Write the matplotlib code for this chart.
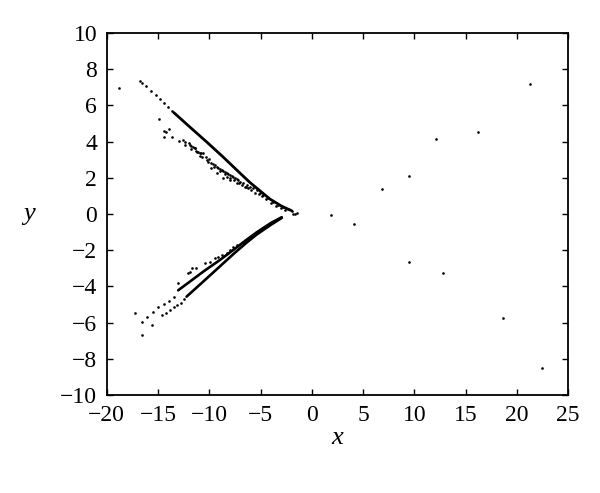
import matplotlib
matplotlib.use("Agg")
import matplotlib.pyplot as plt

# ---- data ----
# isolated points
iso_x = [-18.83, 1.88, 4.15, 6.82, 9.52, 12.13, 16.2, 21.24, 9.49, 12.75, 18.67, 22.48, -1.81, -1.42, -1.6]
iso_y = [6.96, -0.07, -0.55, 1.40, 2.12, 4.13, 4.51, 7.17, -2.67, -3.26, -5.73, -8.51, 0.0, 0.07, -0.02]

# upper outer dotted branch
up_dot_x = [-16.78, -16.58, -16.19, -15.67, -15.21, -14.82, -14.43, -14.04, -13.65]
up_dot_y = [7.36, 7.25, 7.07, 6.78, 6.56, 6.34, 6.12, 5.93, 5.71]

# upper solid branch (vertices)
up_line_x = [-13.46, -11.89, -10.2, -8.64, -7.2, -6.04, -4.08, -3.0, -2.45, -1.97]
up_line_y = [5.60, 4.80, 3.95, 3.14, 2.36, 1.74, 0.82, 0.45, 0.30, 0.18]

# upper scattered band
up_band_x = [-14.95, -14.43, -14.24, -13.91, -14.43, -13.65, -13.0, -12.61, -12.35, -12.35,
             -12.02, -11.83, -11.77, -11.44, -11.31, -11.18, -10.85, -10.92, -10.33, -10.07,
             -11.89, -11.63, -11.41, -11.08, -10.92, -10.59, -10.75, -10.27, -10.10, -9.88,
             -9.68, -9.45, -9.29, -9.13, -8.96, -8.80, -8.64, -8.48, -8.31, -8.15,
             -7.99, -7.83, -7.66, -7.50, -7.34, -7.17, -7.01, -6.69, -6.36, -6.04,
             -5.71, -5.38, -5.06, -4.73, -4.25, -3.76, -3.27, -2.78, -2.29, -1.97,
             -9.88, -9.29, -8.64, -8.31, -7.99, -7.34, -6.52, -6.20, -9.55, -9.0,
             -8.5, -8.0, -7.6, -7.1, -6.8, -6.4, -5.9, -5.5, -5.2, -4.9,
             -4.5, -4.0, -3.5, -3.0, -2.6]
up_band_y = [5.23, 4.60, 4.53, 4.71, 4.27, 4.27, 4.05, 4.09, 3.98, 3.80,
             3.91, 3.76, 3.57, 3.65, 3.50, 3.43, 3.35, 3.20, 3.17, 3.06,
             3.81, 3.72, 3.63, 3.44, 3.35, 3.35, 3.17, 2.98, 2.89, 2.84,
             2.76, 2.71, 2.62, 2.52, 2.47, 2.43, 2.39, 2.34, 2.25, 2.21,
             2.15, 2.10, 2.03, 1.97, 1.92, 1.88, 1.79, 1.69, 1.60, 1.51,
             1.42, 1.33, 1.18, 1.05, 0.87, 0.68, 0.50, 0.37, 0.26, 0.18,
             2.52, 2.25, 1.97, 2.06, 1.88, 1.69, 1.51, 1.42, 2.62, 2.38,
             2.20, 2.00, 1.86, 1.72, 1.62, 1.50, 1.32, 1.18, 1.08, 0.98,
             0.82, 0.62, 0.46, 0.32, 0.22]

# lower dotted points
lo_dot_x = [-17.27, -16.61, -16.61, -16.12, -15.64, -15.54, -14.99, -14.43, -13.91, -13.46,
            -14.57, -14.24, -13.85, -13.46, -13.2, -12.8, -12.48, -13.04,
            -12.06, -11.73, -11.31, -11.9, -10.43, -9.94, -9.45, -9.13, -8.8, -8.31,
            -7.99, -7.66, -7.33, -6.68]
lo_dot_y = [-5.49, -5.95, -6.69, -5.67, -6.13, -5.40, -5.16, -4.97, -4.79, -4.60,
            -5.58, -5.45, -5.30, -5.15, -5.03, -4.90, -4.71, -3.80,
            -3.28, -3.00, -3.00, -3.19, -2.72, -2.64, -2.45, -2.36, -2.27, -2.17,
            -1.99, -1.81, -1.71, -1.53]

# lower solid branches (vertices)
lo_line1_x = [-13.04, -10.5, -8.96, -7.66, -6.4, -5.39, -4.0, -2.94]
lo_line1_y = [-4.22, -3.15, -2.54, -1.99, -1.44, -1.02, -0.50, -0.18]
lo_line2_x = [-12.22, -10.0, -7.66, -6.4, -5.39, -4.0, -2.94]
lo_line2_y = [-4.57, -3.43, -2.22, -1.60, -1.14, -0.60, -0.22]

x_ticks = [-20, -15, -10, -5, 0, 5, 10, 15, 20, 25]
y_ticks = [-10, -8, -6, -4, -2, 0, 2, 4, 6, 8, 10]

# ---- drawing ----
plt.rcParams['font.family'] = ['Liberation Serif', 'DejaVu Serif']
plt.rcParams['axes.unicode_minus'] = True

fig = plt.figure(figsize=(6.0, 4.93), dpi=100)
ax = fig.add_axes([0.178, 0.199, 0.769, 0.734])

dot_kw = dict(s=3.6, c='black', marker='o', linewidths=0)
ax.scatter(iso_x, iso_y, **dot_kw)
ax.scatter(up_dot_x, up_dot_y, **dot_kw)
ax.scatter(up_band_x, up_band_y, **dot_kw)
ax.scatter(lo_dot_x, lo_dot_y, **dot_kw)
ax.plot(up_line_x, up_line_y, color='black', lw=2.0, solid_capstyle='round')
ax.plot(lo_line1_x, lo_line1_y, color='black', lw=1.9, solid_capstyle='round')
ax.plot(lo_line2_x, lo_line2_y, color='black', lw=1.9, solid_capstyle='round')

ax.set_xlim(-20, 25)
ax.set_ylim(-10, 10)
ax.set_xticks(x_ticks)
ax.set_yticks(y_ticks)
ax.set_xticklabels([str(v).replace('-', '\u2212') for v in x_ticks])
ax.set_yticklabels([str(v).replace('-', '\u2212') for v in y_ticks])
ax.tick_params(direction='in', length=4, width=1, top=True, right=True,
               labelsize=17, pad=7)
for sp in ax.spines.values():
    sp.set_linewidth(1.3)

ax.set_xlabel('x', fontsize=19, style='italic', labelpad=1)
ax.set_ylabel('y', fontsize=19, style='italic', rotation=0, labelpad=22, va='center')

fig.savefig('out.png', dpi=100)
